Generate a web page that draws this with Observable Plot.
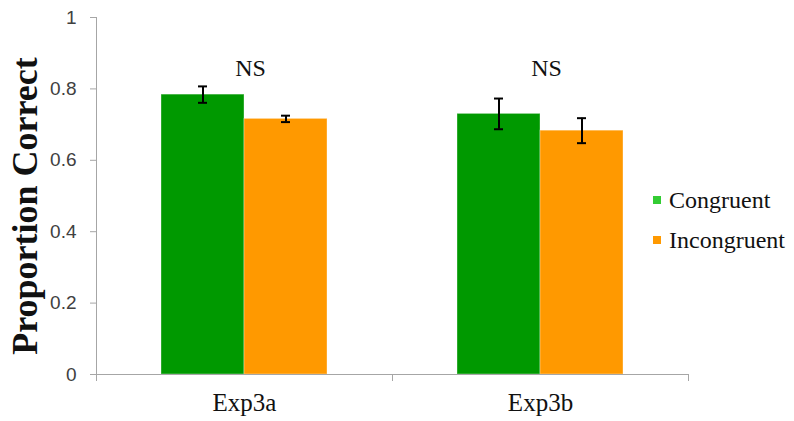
<!DOCTYPE html>
<html>
<head>
<meta charset="utf-8">
<script src="https://cdn.jsdelivr.net/npm/d3@7"></script>
<script src="https://cdn.jsdelivr.net/npm/@observablehq/plot@0.6"></script>
<style>
  body { margin: 0; background: #fff; }
  #wrap { position: relative; width: 794px; height: 421px; }
  #legend { position: absolute; left: 653px; top: 188px; font-family: "Liberation Serif", serif; font-size: 24px; color: #111; }
  #legend .item { display: flex; align-items: center; height: 24px; line-height: 24px; margin-bottom: 16px; }
  #legend .sw { width: 8px; height: 8px; margin-right: 8px; }
</style>
</head>
<body>
<div id="wrap"><div id="legend"></div></div>
<script>
// Experiments, conditions and their mean proportion correct (± error)
const groups = ["Exp3a", "Exp3b"];
const conditions = ["Congruent", "Incongruent"];
const congruentMeans = [0.784, 0.730];
const incongruentMeans = [0.716, 0.683];
const congruentErrors = [0.023, 0.043];
const incongruentErrors = [0.009, 0.035];
const significance = ["NS", "NS"];
const yTicks = [0, 0.2, 0.4, 0.6, 0.8, 1];
const barColors = ["#009900", "#ff9900"];
const legendColors = ["#33cc33", "#ff9900"];

const rows = groups.flatMap((g, i) => [
  {group: g, condition: conditions[0], mean: congruentMeans[i], err: congruentErrors[i]},
  {group: g, condition: conditions[1], mean: incongruentMeans[i], err: incongruentErrors[i]}
]);
const sig = groups.map((g, i) => ({group: g, label: significance[i]}));

const axisGray = "#a6a6a6";
const serif = "Liberation Serif, serif";

const chart = Plot.plot({
  width: 794,
  height: 421,
  marginLeft: 95,
  marginRight: 106,
  marginTop: 17,
  marginBottom: 47,
  style: {background: "white", overflow: "visible"},
  fx: {domain: groups, padding: 0, label: null},
  x: {domain: conditions, paddingInner: 0, paddingOuter: 0.765, axis: null},
  y: {domain: [0, 1], label: null},
  color: {domain: conditions, range: barColors},
  marks: [
    Plot.barY(rows, {fx: "group", x: "condition", y: "mean", fill: "condition",
      stroke: "white", strokeOpacity: 0.35, strokeWidth: 1}),
    // x axis line and the category boundary ticks
    Plot.ruleY([0], {stroke: axisGray}),
    Plot.frame({anchor: "left", facetAnchor: "left", stroke: axisGray}),
    Plot.frame({anchor: "left", insetTop: 357, insetBottom: -6, stroke: axisGray}),
    Plot.frame({anchor: "right", facetAnchor: "right", insetTop: 357, insetBottom: -6, stroke: axisGray}),
    Plot.axisY({ticks: yTicks, tickFormat: d => String(d), tickSize: 6, tickPadding: 14,
      fontSize: 19, fontFamily: "Liberation Sans, sans-serif", fill: "#404040", stroke: axisGray, label: null}),
    Plot.axisFx({anchor: "bottom", tickSize: 0, tickPadding: 19, fontSize: 25,
      fontFamily: serif, fill: "#111", label: null}),
    // error bars
    Plot.ruleX(rows, {fx: "group", x: "condition", y1: d => d.mean - d.err, y2: d => d.mean + d.err,
      stroke: "black", strokeWidth: 2}),
    Plot.tickY(rows, {fx: "group", x: "condition", y: d => d.mean + d.err,
      stroke: "black", strokeWidth: 2, insetLeft: 37, insetRight: 37}),
    Plot.tickY(rows, {fx: "group", x: "condition", y: d => d.mean - d.err,
      stroke: "black", strokeWidth: 2, insetLeft: 37, insetRight: 37}),
    // significance labels
    Plot.text(sig, {fx: "group", text: "label", frameAnchor: "top", dy: 41.5, dx: 6,
      fontSize: 24, fontFamily: serif, fill: "#111"}),
    // y axis title
    Plot.text(["Proportion Correct"], {frameAnchor: "left", facetAnchor: "left", rotate: -90,
      textAnchor: "middle", dx: -71, dy: 10, fontSize: 36, fontWeight: "bold", fontFamily: serif, fill: "#111"})
  ]
});

document.getElementById("wrap").prepend(chart);

// legend
const legend = document.getElementById("legend");
conditions.forEach((c, i) => {
  const item = document.createElement("div");
  item.className = "item";
  const sw = document.createElement("span");
  sw.className = "sw";
  sw.style.background = legendColors[i];
  const label = document.createElement("span");
  label.textContent = c;
  item.append(sw, label);
  legend.append(item);
});
</script>
</body>
</html>
